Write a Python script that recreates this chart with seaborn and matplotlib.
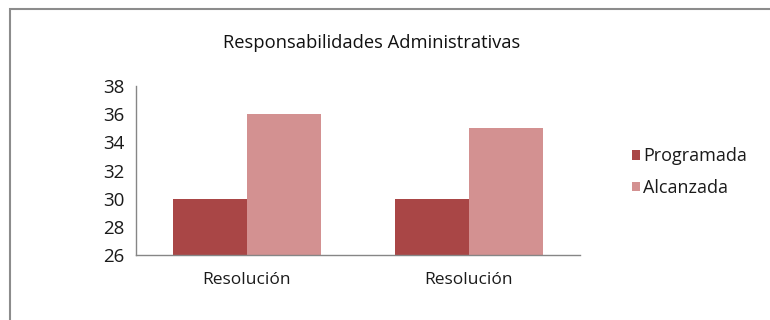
import pandas as pd
import seaborn as sns
import matplotlib.pyplot as plt
from matplotlib.patches import Rectangle

# datos
categorias = ["Resolución", "Resolución"]
programada = [30, 30]
alcanzada = [36, 35]
series = ["Programada", "Alcanzada"]
colores = ["#A94646", "#D39191"]
ticks_y = [26, 28, 30, 32, 34, 36, 38]

claves = [f"g{i}" for i in range(len(categorias))]
df = pd.DataFrame({
    "grupo": claves * 2,
    "serie": [series[0]] * len(claves) + [series[1]] * len(claves),
    "valor": programada + alcanzada,
})

sns.set_style("white")
plt.rcParams['font.family'] = ['Open Sans', 'DejaVu Sans']

fig = plt.figure(figsize=(7.7, 3.2), dpi=100)
ax = fig.add_axes([0.1766, 0.2031, 0.5766, 0.528])

sns.barplot(data=df, x="grupo", y="valor", hue="serie", hue_order=series,
            palette=colores, width=2 / 3, gap=0, saturation=1, ax=ax,
            edgecolor="none", linewidth=0)

ax.set_ylim(26, 38)
ax.set_xlim(-0.5, len(claves) - 0.5)
ax.set_yticks(ticks_y)
ax.set_yticklabels([str(t) for t in ticks_y], fontsize=13.5, color="#1a1a1a")
ax.set_xticks(range(len(claves)))
ax.set_xticklabels(categorias, fontsize=12.5, color="#1a1a1a")
ax.set_xticks([i - 0.5 for i in range(len(claves) + 1)], minor=True)
ax.tick_params(axis="x", which="major", length=0, pad=12)
ax.tick_params(axis="x", which="minor", length=6, color="#868686", width=1, direction="out")
ax.tick_params(axis="y", length=5, color="#868686", width=1, direction="out", pad=3)
ax.set_xlabel("")
ax.set_ylabel("")
sns.despine(ax=ax)
for lado in ["left", "bottom"]:
    ax.spines[lado].set_color("#868686")
    ax.spines[lado].set_linewidth(1)

fig.text(0.483, 0.866, "Responsabilidades Administrativas", ha="center", va="center",
         fontsize=13.2, color="#111111", fontweight="medium")

handles, labels = ax.get_legend_handles_labels()
ax.legend(handles, labels, loc="center left", bbox_to_anchor=(0.8, 0.462),
          bbox_transform=fig.transFigure, frameon=False, fontsize=13,
          handlelength=0.45, handleheight=0.45, handletextpad=0.15, labelspacing=0.75,
          labelcolor="#1a1a1a")

# marco exterior del grafico
fig.add_artist(Rectangle((9.5 / 770, -0.1), 1.2, 1.1 - 8.5 / 320, transform=fig.transFigure,
                         fill=False, edgecolor="#8c8c8c", linewidth=1.5))

fig.savefig("out.png", dpi=100)
